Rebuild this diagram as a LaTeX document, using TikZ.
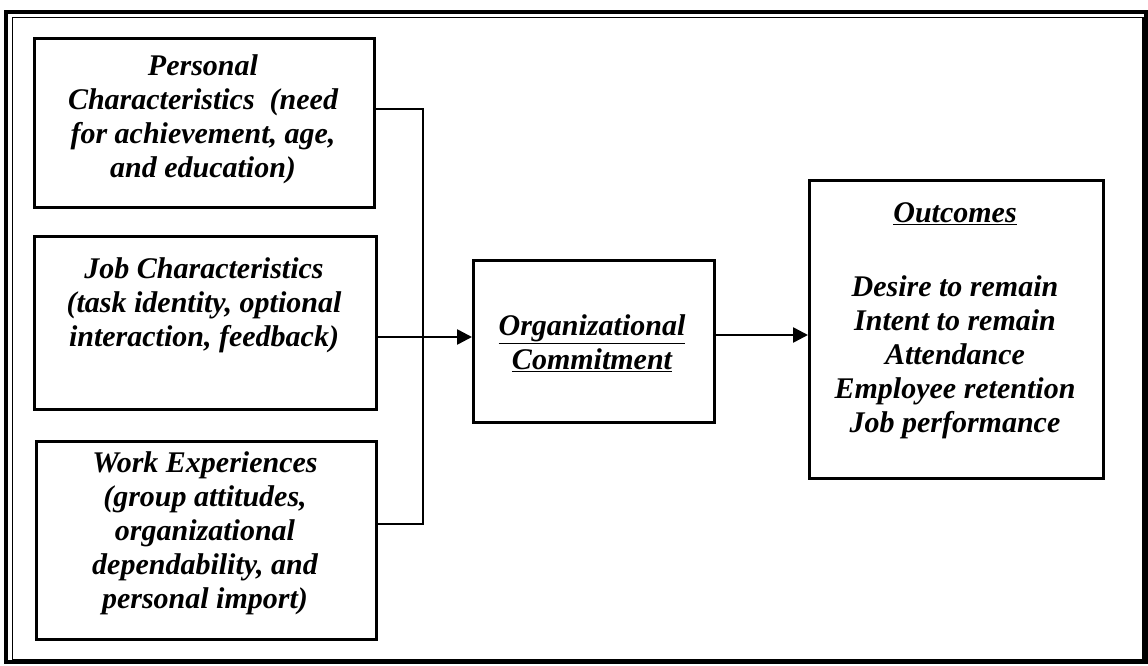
\documentclass[tikz,border=0pt]{standalone}
\usepackage{fontspec}
\setmainfont{Liberation Serif}
\usetikzlibrary{arrows.meta}
\begin{document}
\begin{tikzpicture}[x=1pt,y=-1pt,
  box/.style={draw,line width=3pt,anchor=north west,inner sep=0pt},
  txt/.style={align=center,font=\fontsize{30}{34}\selectfont\bfseries\itshape,inner sep=0pt},
  link/.style={line width=2.6pt},
  arr/.style={line width=2.6pt,-{Triangle[length=15pt,width=15pt]}}]
  \useasboundingbox (0,0) rectangle (1148,666);
  % double outer frame
  \draw[line width=4pt] (6,12) rectangle (1145.5,662);
  \draw[line width=1.8pt] (12.5,17.5) rectangle (1143,660);
  % input boxes
  \node[box,minimum width=340pt,minimum height=169pt] (pc) at (33,37) {};
  \node[box,minimum width=342pt,minimum height=173pt] (jc) at (33,235) {};
  \node[box,minimum width=340pt,minimum height=198pt] (we) at (35,440) {};
  \node[txt] (pct) at (203,119) {Personal\\Characteristics\ \ (need\\for achievement, age,\\and education)};
  \node[txt] (jct) at (204,305) {Job Characteristics\\(task identity, optional\\interaction, feedback)};
  \node[txt] (wet) at (205,533) {Work Experiences\\(group attitudes,\\organizational\\dependability, and\\personal import)};
  % central and outcome boxes
  \node[box,minimum width=241pt,minimum height=162pt] (oc) at (472,259) {};
  \node[txt] (oct) at (592,343) {\underline{Organizational}\\\underline{Commitment}};
  \node[box,minimum width=294pt,minimum height=298pt] (out) at (808,179) {};
  \node[txt,anchor=north] (outt) at (955,202) {\underline{Outcomes}\\[40pt]Desire to remain\\Intent to remain\\Attendance\\Employee retention\\Job performance};
  % bracket joining the three inputs
  \coordinate (b1) at (423,109);
  \coordinate (b3) at (423,524);
  \draw[link] (pc.east |- b1) -- (b1) -- (b3) -- (we.east |- b3);
  \draw[arr] (jc.east |- 0,337) -- (oc.west |- 0,337);
  \draw[arr] (oc.east |- 0,335) -- (out.west |- 0,335);
\end{tikzpicture}
\end{document}
